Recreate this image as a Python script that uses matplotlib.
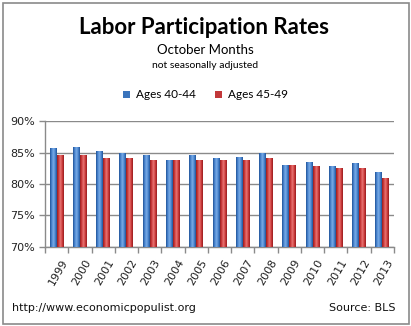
import numpy as np
import matplotlib
matplotlib.use("Agg")
import matplotlib.pyplot as plt
import matplotlib.transforms as mtransforms
from matplotlib.patches import Rectangle
from matplotlib.colors import LinearSegmentedColormap

years = ["1999", "2000", "2001", "2002", "2003", "2004", "2005", "2006",
         "2007", "2008", "2009", "2010", "2011", "2012", "2013"]
ages_40_44 = [85.7, 85.85, 85.2, 84.9, 84.7, 83.9, 84.7, 84.1,
              84.3, 84.95, 83.1, 83.5, 82.8, 83.3, 81.9]
ages_45_49 = [84.7, 84.7, 84.2, 84.2, 83.9, 83.9, 83.9, 83.8,
              83.9, 84.1, 83.1, 82.8, 82.6, 82.6, 81.0]
series_names = ["Ages 40-44", "Ages 45-49"]
yticks = [70, 75, 80, 85, 90]

blue = "#3A74BC"
red = "#C2383A"
blue_cmap = LinearSegmentedColormap.from_list("b", ["#1F5296", "#4A86D0", "#7AACE6", "#4A86D0", "#1F5296"])
red_cmap = LinearSegmentedColormap.from_list("r", ["#951C1E", "#CF3C3C", "#E87876", "#CF3C3C", "#951C1E"])

fig = plt.figure(figsize=(4.11, 3.26), dpi=100)
fig.patch.set_facecolor("white")
ax = fig.add_axes([45/411, 1-246.7/326, (394-45)/411, (246.7-121.3)/326])

x = np.arange(len(years))
w = 0.3
b1 = ax.bar(x - w/2, np.array(ages_40_44) - 70, w, bottom=70, color=blue, label=series_names[0], zorder=3)
b2 = ax.bar(x + w/2, np.array(ages_45_49) - 70, w, bottom=70, color=red, label=series_names[1], zorder=3)

grad = np.linspace(0, 1, 64).reshape(1, -1)
for bars, cm in ((b1, blue_cmap), (b2, red_cmap)):
    for p in bars:
        x0, y0, bw, bh = p.get_x(), p.get_y(), p.get_width(), p.get_height()
        im = ax.imshow(grad, cmap=cm, aspect="auto", extent=(x0, x0 + bw, y0, y0 + bh),
                       zorder=4, interpolation="bilinear")
        im.set_clip_path(p)

ax.set_xlim(-0.5, len(years) - 0.5)
ax.set_ylim(70, 90)
ax.set_yticks(yticks)
ax.set_yticklabels([f"{v}%" for v in yticks], fontsize=8, color="#222222", family="DejaVu Sans")
ax.yaxis.grid(True, color="#8A8A8A", linewidth=1.0, zorder=0)
ax.set_axisbelow(True)

ax.set_xticks(x)
ax.set_xticklabels(years, rotation=60, ha="right", rotation_mode="anchor", fontsize=8,
                   color="#222222", family="DejaVu Sans")
ax.tick_params(axis="x", length=0, pad=8)
shift = mtransforms.ScaledTranslation(4/100, 0, fig.dpi_scale_trans)
for lbl in ax.get_xticklabels():
    lbl.set_transform(lbl.get_transform() + shift)
ax.set_xticks(np.arange(-0.5, len(years), 1), minor=True)
ax.tick_params(axis="x", which="minor", length=4, color="#8A8A8A", width=1)
ax.tick_params(axis="y", length=4, color="#8A8A8A", width=1, pad=3)

for s in ["top", "right"]:
    ax.spines[s].set_visible(False)
for s in ["left", "bottom"]:
    ax.spines[s].set_color("#8A8A8A")
    ax.spines[s].set_linewidth(1.0)

fig.text(0.496, 1-27/326, "Labor Participation Rates", ha="center", va="center",
         fontsize=16, fontweight="bold", family="Lato", color="black")
fig.text(0.5, 1-50/326, "October Months", ha="center", va="center",
         fontsize=9.5, family="Lato", color="black")
fig.text(0.5, 1-66/326, "not seasonally adjusted", ha="center", va="center",
         fontsize=7.5, family="Lato", color="black")

fig.legend(handles=[b1, b2], labels=series_names, loc="center", bbox_to_anchor=(0.5, 1-95/326),
           ncol=2, frameon=False, prop={"family": "Lato", "size": 8.5},
           handlelength=0.6, handleheight=0.6, handletextpad=0.5, columnspacing=1.6)

fig.text(12/411, 1-308/326, "http://www.economicpopulist.org", ha="left", va="center",
         fontsize=8, family="DejaVu Sans", color="#111111")
fig.text(395/411, 1-308/326, "Source: BLS", ha="right", va="center",
         fontsize=8, family="DejaVu Sans", color="#111111")

fig.add_artist(Rectangle((2.5/411, 2.5/326), 406/411, 321/326, transform=fig.transFigure,
                         fill=False, edgecolor="#8A8A8A", linewidth=1.2))

fig.savefig("out.png", dpi=100, facecolor="white")
